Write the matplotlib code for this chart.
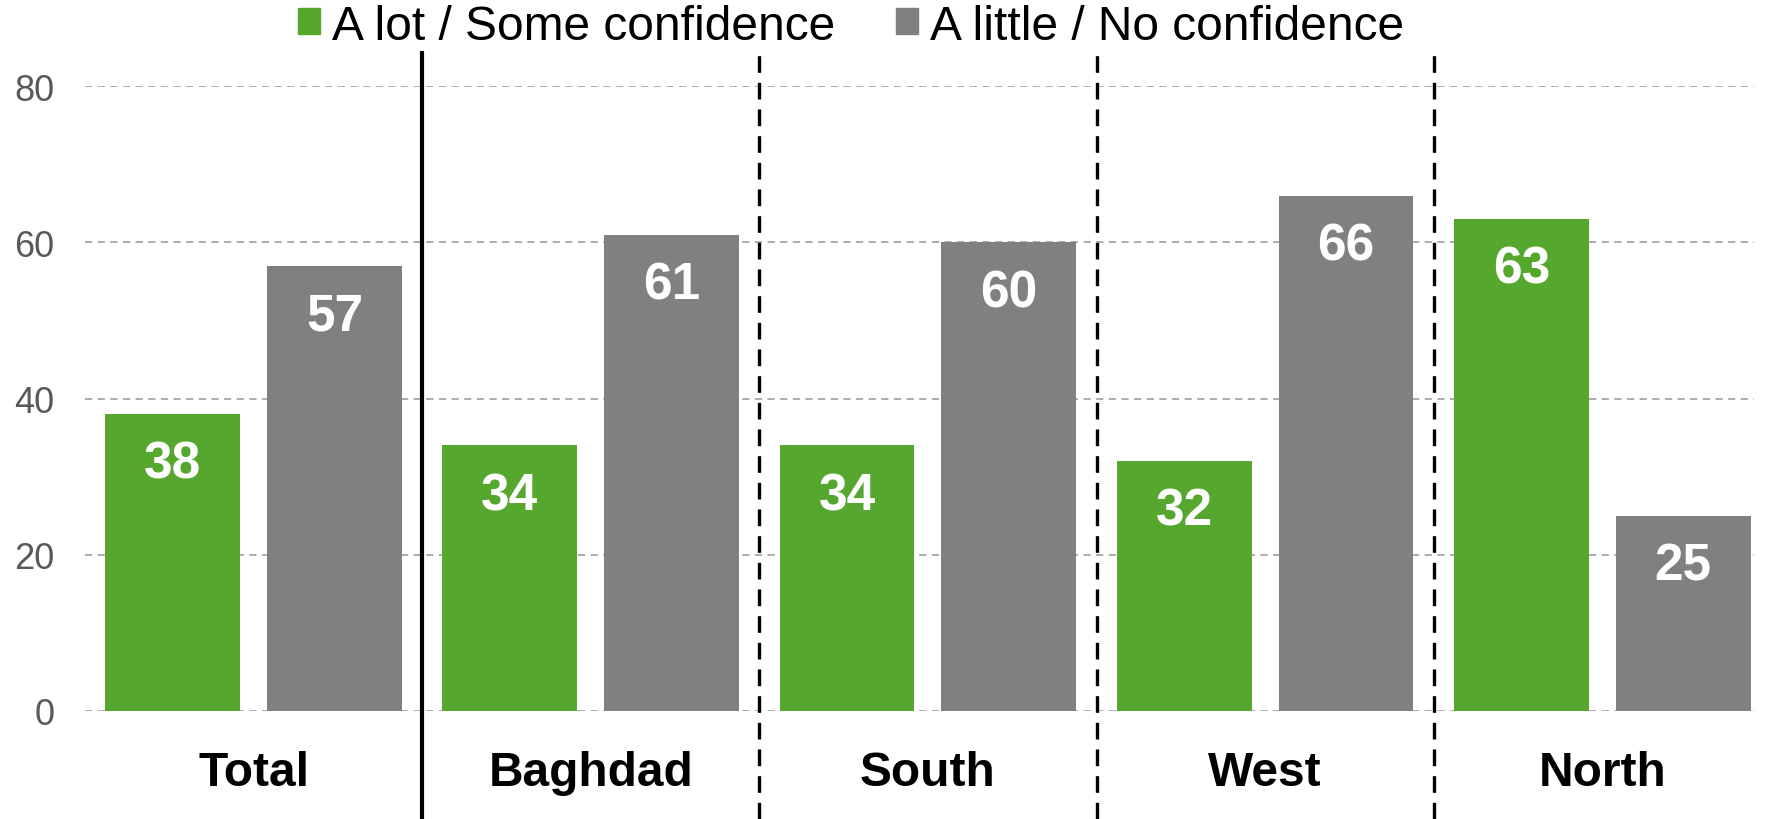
import matplotlib
matplotlib.use("Agg")
import matplotlib.pyplot as plt
import numpy as np
from matplotlib.patches import Patch
from matplotlib.lines import Line2D

plt.rcParams['font.family'] = ['Liberation Sans', 'DejaVu Sans']

categories = ["Total", "Baghdad", "South", "West", "North"]
series_names = ["A lot / Some confidence", "A little / No confidence"]
confident = [38, 34, 34, 32, 63]
not_confident = [57, 61, 60, 66, 25]
yticks = [0, 20, 40, 60, 80]

GREEN = '#56A72D'
GREY = '#808080'

fig = plt.figure(figsize=(17.77, 8.2), dpi=100)
ax = fig.add_axes([85/1777, 1-711.7/820, (1754-85)/1777, (711.7-87.3)/820])

x = np.arange(len(categories))
w = 0.40
off = 0.24
b1 = ax.bar(x - off, confident, w, color=GREEN, zorder=3)
b2 = ax.bar(x + off, not_confident, w, color=GREY, zorder=3)

for bars in (b1, b2):
    for rect in bars:
        h = rect.get_height()
        ax.annotate(f"{h:.0f}", (rect.get_x() + rect.get_width()/2, h),
                    xytext=(0, -46), textcoords='offset points',
                    ha='center', va='baseline', color='white',
                    fontsize=37, fontweight='bold', zorder=4)

ax.set_xlim(-0.5, 4.45)
ax.set_ylim(0, 80)
ax.set_yticks(yticks)
ax.set_yticklabels([str(t) for t in yticks])
ax.yaxis.grid(True, color='#A6A6A6', linestyle=(0, (4, 3)), linewidth=1.3, zorder=1)
ax.set_xticks(x)
ax.set_xticklabels(categories, fontsize=34.5, fontweight='bold')
ax.tick_params(axis='x', length=0, pad=28)
ax.tick_params(axis='y', length=0, pad=22, labelsize=26, labelcolor='#595959')
for s in ax.spines.values():
    s.set_visible(False)

# separators extending beyond the axes
trans = ax.get_xaxis_transform()
y_top = 1 + (87.3-54)/(711.7-87.3)
y_bot = -(820-711.7)/(711.7-87.3)
for i in range(len(categories)-1):
    xs = i + 0.5
    if i == 0:
        ln = Line2D([xs, xs], [y_bot, y_top], transform=trans, color='black',
                    linewidth=3.0, clip_on=False, zorder=5)
    else:
        ln = Line2D([xs, xs], [y_bot, y_top], transform=trans, color='black',
                    linewidth=2.4, linestyle=(0, (5, 3)), clip_on=False, zorder=5)
    ax.add_line(ln)

handles = [Patch(color=GREEN), Patch(color=GREY)]
fig.legend(handles, series_names, loc='center', bbox_to_anchor=(851/1777, 1-27/820),
           ncol=2, frameon=False, fontsize=34.5, handlelength=0.46, handleheight=0.46,
           handletextpad=0.25, columnspacing=1.25, borderpad=0, borderaxespad=0)

fig.savefig("out.png", dpi=100)
